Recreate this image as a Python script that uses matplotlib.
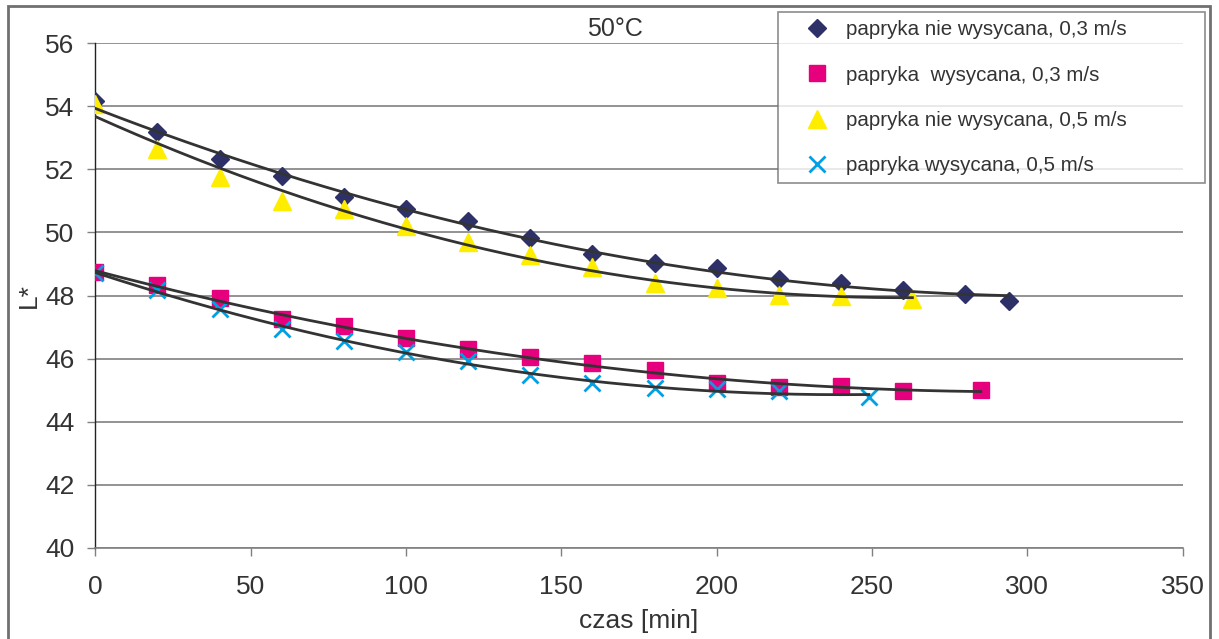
import numpy as np
import matplotlib
matplotlib.use("Agg")
import matplotlib.pyplot as plt
from matplotlib.patches import Rectangle

plt.rcParams['font.family'] = ['Liberation Sans', 'DejaVu Sans']

# czas [min] i L* dla czterech serii
t_nw_03 = [0, 20, 40, 60, 80, 100, 120, 140, 160, 180, 200, 220, 240, 260, 280, 294]
L_nw_03 = [54.17, 53.18, 52.32, 51.78, 51.11, 50.74, 50.36, 49.82, 49.31, 49.04,
           48.88, 48.51, 48.39, 48.18, 48.05, 47.84]

t_w_03 = [0, 20, 40, 60, 80, 100, 120, 140, 160, 180, 200, 220, 240, 260, 285]
L_w_03 = [48.75, 48.32, 47.91, 47.24, 47.03, 46.65, 46.30, 46.04, 45.85, 45.64,
          45.21, 45.11, 45.14, 44.98, 45.00]

t_nw_05 = [0, 20, 40, 60, 80, 100, 120, 140, 160, 180, 200, 220, 240, 263]
L_nw_05 = [54.08, 52.66, 51.75, 51.01, 50.75, 50.20, 49.71, 49.30, 48.91, 48.39,
           48.23, 48.03, 47.97, 47.89]

t_w_05 = [0, 20, 40, 60, 80, 100, 120, 140, 160, 180, 200, 220, 249]
L_w_05 = [48.72, 48.16, 47.56, 46.93, 46.56, 46.21, 45.92, 45.48, 45.21, 45.06,
          45.03, 44.97, 44.79]

labels = ['papryka nie wysycana, 0,3 m/s', 'papryka  wysycana, 0,3 m/s',
          'papryka nie wysycana, 0,5 m/s', 'papryka wysycana, 0,5 m/s']

series = [
    (t_nw_03, L_nw_03, dict(marker='D', color='#2E3168', markersize=9.5)),
    (t_w_03, L_w_03, dict(marker='s', color='#E6007E', markersize=11)),
    (t_nw_05, L_nw_05, dict(marker='^', color='#FFED00', markersize=12.5)),
    (t_w_05, L_w_05, dict(marker='x', color='#00A0E3', markersize=11, markeredgewidth=2)),
]

fig = plt.figure(figsize=(12.19, 6.39), dpi=100)
ax = fig.add_axes([0.0782, 0.1429, 0.8920, 0.7893])

# ramka wykresu
fig.patches.append(Rectangle((8 / 1219, -0.05), 1202 / 1219, 1.05 - 6 / 639,
                             transform=fig.transFigure, fill=False,
                             edgecolor='#707070', linewidth=2))

handles = []
for t, L, style in series:
    h, = ax.plot(t, L, linestyle='none', zorder=4, **style)
    handles.append(h)

# linie trendu (wielomian 2 stopnia)
for t, L, style in series:
    coef = np.polyfit(t, L, 2)
    xs = np.linspace(t[0], t[-1], 200)
    ax.plot(xs, np.polyval(coef, xs), color='#333333', linewidth=2, zorder=5)

ax.set_xlim(0, 350)
ax.set_ylim(40, 56)
ax.set_xticks(np.arange(0, 351, 50))
ax.set_yticks(np.arange(40, 57, 2))
ax.yaxis.grid(True, color='#808080', linewidth=1.2)
ax.set_axisbelow(True)

for s in ['top', 'right']:
    ax.spines[s].set_visible(False)
ax.spines['left'].set_color('#222222')
ax.spines['left'].set_linewidth(1)
ax.spines['bottom'].set_color('#808080')
ax.spines['bottom'].set_linewidth(1.2)

ax.tick_params(axis='y', length=6, width=1, color='#808080', pad=9,
               labelsize=19, labelcolor='#333333')
ax.tick_params(axis='x', length=6, width=1, color='#808080', pad=14,
               labelsize=19, labelcolor='#333333')

ax.set_xlabel('czas [min]', fontsize=19, color='#333333', labelpad=7)
ax.set_ylabel('L*', fontsize=19, color='#333333', labelpad=3)

fig.text(615 / 1219, 1 - 29 / 639, '50°C', fontsize=18, color='#333333',
         ha='center', va='center')

leg = fig.legend(handles, labels, loc='upper left',
                 bbox_to_anchor=(778 / 1219, 1 - 12 / 639 - 0.01, 427 / 1219, 0.01),
                 mode='expand', fontsize=14.8, frameon=True, fancybox=False,
                 edgecolor='#707070', borderpad=0.4, labelspacing=1.28,
                 handletextpad=-0.1, handlelength=3.0, borderaxespad=0)
leg.get_frame().set_linewidth(1.2)
for txt in leg.get_texts():
    txt.set_color('#333333')

fig.savefig('out.png', dpi=100)
